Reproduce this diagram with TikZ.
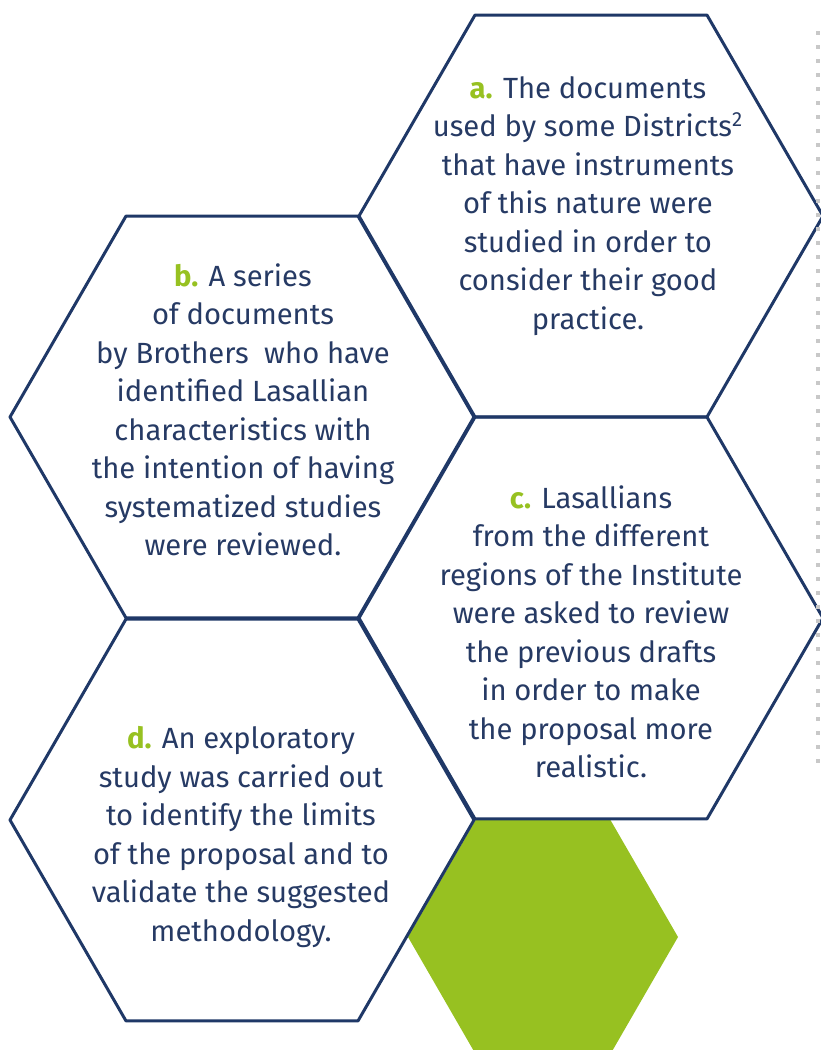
\documentclass[tikz,border=0pt]{standalone}
\usepackage{fontspec}
\setmainfont{Fira Sans}
\usepackage{tikz}
\usetikzlibrary{positioning, shapes.geometric}
\definecolor{HexColor}{RGB}{31,56,103}
\definecolor{TextColor}{RGB}{38,58,100}
\definecolor{LetterColor}{RGB}{151,193,33}
\definecolor{DotColor}{RGB}{200,200,200}
\newcommand{\steplabel}[1]{\textcolor{LetterColor}{\textbf{#1}}}
\tikzset{
  hexcell/.style={regular polygon, regular polygon sides=6, minimum size=232pt, inner sep=0pt, outer sep=0pt, draw=HexColor, line width=1.5pt, line join=round},
  hexfill/.style={regular polygon, regular polygon sides=6, minimum size=135pt, inner sep=0pt, outer sep=0pt, fill=LetterColor},
  celltext/.style={align=center, text=TextColor, font=\fontsize{14.6}{19.25}\selectfont, inner sep=0pt},
  dotline/.style={DotColor, line width=2pt, dash pattern=on 2pt off 5pt}
}
\begin{document}
\begin{tikzpicture}[x=0.5pt, y=-0.5pt]
  \useasboundingbox (0,0) rectangle (820,1050);

  % Green hexagon
  \node[hexfill] (hexg) at (543,937) {};

  % Hexagon cells
  \node[hexcell] (hexa) at (591,216) {};
  \node[hexcell] (hexb) at (242,417) {};
  \node[hexcell] (hexc) at (591,618) {};
  \node[hexcell] (hexd) at (242,820) {};

  % Texts
  \node[celltext] (texta) at (588,206) {\steplabel{a.} The documents\\used by some Districts\textsuperscript{2}\\that have instruments\\of this nature were\\studied in order to\\consider their good\\practice.};
  \node[celltext] (textb) at (243,410) {\steplabel{b.} A series\\of documents\\by Brothers~ who have\\identified Lasallian\\characteristics with\\the intention of having\\systematized studies\\were reviewed.};
  \node[celltext] (textc) at (591,632) {\steplabel{c.} Lasallians\\from the different\\regions of the Institute\\were asked to review\\the previous drafts\\in order to make\\the proposal more\\realistic.};
  \node[celltext] (textd) at (241,837) {\steplabel{d.} An exploratory\\study was carried out\\to identify the limits\\of the proposal and to\\validate the suggested\\methodology.};

  % Dotted rule
  \coordinate (dotTop) at (818,31);
  \coordinate (dotBot) at (818,770);
  \draw[dotline] (dotTop) -- (dotBot);
\end{tikzpicture}
\end{document}
